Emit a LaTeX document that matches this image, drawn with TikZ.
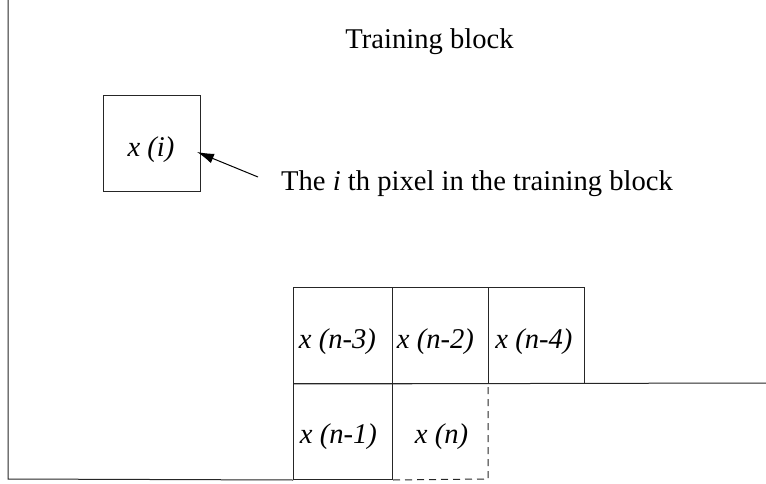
\documentclass[tikz,border=0pt]{standalone}
\usepackage{fontspec}
\setmainfont{Liberation Serif}
\usetikzlibrary{arrows.meta}
\begin{document}
\begin{tikzpicture}[x=1pt,y=-1pt,
  ln/.style={line width=1pt,draw=black!85},
  cell/.style={ln,minimum width=96pt,minimum height=96pt,inner sep=0pt,anchor=north west},
  lbl/.style={font=\fontsize{28.6}{32}\selectfont\itshape,anchor=base,inner sep=0pt},
  txt/.style={font=\fontsize{28.6}{32}\selectfont,anchor=base,inner sep=0pt}]
\useasboundingbox (0,0) rectangle (766,484);
% frame
\coordinate (ftop) at (8,0);
\coordinate (fbot) at (8,479);
\coordinate (fright) at (766,383);
% cells
\node[cell,minimum width=99pt] (c3) at (293,287) {};
\node[cell] (c2) at (392,287) {};
\node[cell] (c4) at (488,287) {};
\node[cell,minimum width=99pt] (c1) at (293,383) {};
\coordinate (cn) at (488,383);
\coordinate (cnb) at (488,479);
\draw[ln] (ftop) -- (fbot) -- (c1.south west);
\draw[ln] (c3.south west) -- (fright);
\draw[ln,dashed,dash pattern=on 7pt off 5pt] (c1.south east) -- (cnb) -- (cn);
% labels
\node[lbl] (l3) at (337.5,348) {x (n-3)};
\node[lbl] (l2) at (435.5,348) {x (n-2)};
\node[lbl] (l4) at (534,348) {x (n-4)};
\node[lbl] (l1) at (338.5,443) {x (n-1)};
\node[lbl] (ln0) at (441.5,443) {x (n)};
% pixel box
\node[ln,minimum width=97pt,minimum height=96pt,inner sep=0pt,anchor=north west] (xi) at (103,95) {};
\node[lbl] (xil) at (151,157) {x (i)};
% texts
\node[txt] (title) at (429.5,49) {Training block};
\node[txt,anchor=base west] (desc) at (281,190) {The \textit{i} th pixel in the training block};
\coordinate (tail) at (258,177);
\draw[line width=1pt,-{Latex[length=17pt,width=10pt]}] (tail) -- (197,152);
\end{tikzpicture}
\end{document}
